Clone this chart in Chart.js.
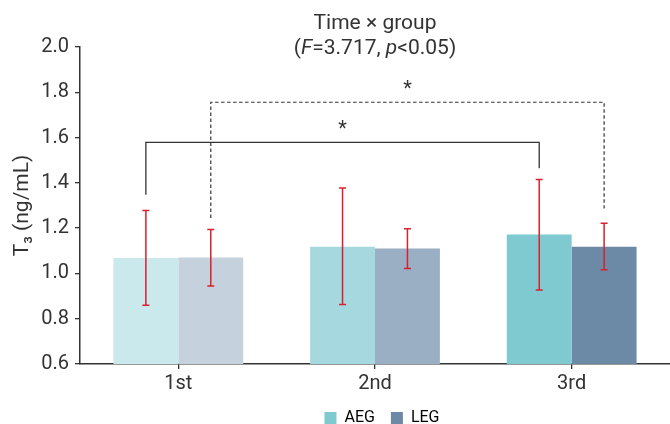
<!DOCTYPE html>
<html>
<head>
<meta charset="utf-8">
<script src="https://cdn.jsdelivr.net/npm/chart.js@4.4.1/dist/chart.umd.min.js"></script>
<style>
  html, body { margin: 0; padding: 0; background: #fff; }
  #wrap { width: 670px; height: 424px; }
</style>
</head>
<body>
<div id="wrap"><canvas id="chart" width="670" height="424"></canvas></div>
<script>
// values
const categories = ['1st', '2nd', '3rd'];
const groups = ['AEG', 'LEG'];
const aegMean = [1.068, 1.118, 1.172];
const legMean = [1.070, 1.110, 1.118];
const aegLow = [0.860, 0.863, 0.927];
const aegHigh = [1.278, 1.377, 1.415];
const legLow = [0.944, 1.022, 1.016];
const legHigh = [1.194, 1.197, 1.222];
const yTicks = [0.6, 0.8, 1.0, 1.2, 1.4, 1.6, 1.8, 2.0];

// brackets: dataset index, from category, to category, left foot, top, right foot
const solidBracket = [0, 0, 2, 1.347, 1.579, 1.464];
const dashedBracket = [1, 0, 2, 1.245, 1.756, 1.287];

const titleLine1 = 'Time × group';
const titleLine2 = [['(', false], ['F', true], ['=3.717, ', false], ['p', true], ['<0.05)', false]];

const aegColors = ['#c9e9ed', '#a5d9df', '#7fc9d1'];
const legColors = ['#c5d1dd', '#9aaec4', '#6c89a6'];
const textColor = '#333';
const FONT = 'Roboto';

const errorBars = {
  id: 'errorBars',
  afterDatasetsDraw(chart) {
    const { ctx } = chart;
    const y = chart.scales.y;
    const lows = [aegLow, legLow];
    const highs = [aegHigh, legHigh];
    ctx.save();
    ctx.strokeStyle = 'rgb(218, 32, 46)';
    ctx.lineWidth = 1.5;
    for (let d = 0; d < 2; d++) {
      chart.getDatasetMeta(d).data.forEach((bar, i) => {
        const x = bar.x;
        const top = y.getPixelForValue(highs[d][i]);
        const bot = y.getPixelForValue(lows[d][i]);
        ctx.beginPath();
        ctx.moveTo(x, top); ctx.lineTo(x, bot);
        ctx.moveTo(x - 3.5, top); ctx.lineTo(x + 3.5, top);
        ctx.moveTo(x - 3.5, bot); ctx.lineTo(x + 3.5, bot);
        ctx.stroke();
      });
    }
    ctx.restore();
  }
};

function drawBracket(chart, b, dashed) {
  const { ctx } = chart;
  const y = chart.scales.y;
  const meta = chart.getDatasetMeta(b[0]);
  const x1 = meta.data[b[1]].x;
  const x2 = meta.data[b[2]].x;
  const yTop = y.getPixelForValue(b[4]);
  ctx.save();
  ctx.strokeStyle = textColor;
  ctx.lineWidth = dashed ? 1.2 : 1.3;
  ctx.setLineDash(dashed ? [3.5, 2.5] : []);
  ctx.beginPath();
  ctx.moveTo(x1, y.getPixelForValue(b[3]));
  ctx.lineTo(x1, yTop);
  ctx.lineTo(x2, yTop);
  ctx.lineTo(x2, y.getPixelForValue(b[5]));
  ctx.stroke();
  ctx.setLineDash([]);
  ctx.fillStyle = textColor;
  ctx.font = `20px ${FONT}`;
  ctx.textAlign = 'center';
  ctx.textBaseline = 'alphabetic';
  ctx.fillText('*', (x1 + x2) / 2, yTop - 7);
  ctx.restore();
}

const annotations = {
  id: 'annotations',
  afterLayout(chart) {
    // legend sits a little right of centre in the reference
    chart.legend.left += 92;
  },
  afterDraw(chart) {
    const { ctx, chartArea } = chart;
    drawBracket(chart, solidBracket, false);
    drawBracket(chart, dashedBracket, true);

    const cx = (chartArea.left + chartArea.right) / 2;
    ctx.save();
    ctx.fillStyle = textColor;
    ctx.textBaseline = 'alphabetic';
    ctx.textAlign = 'center';
    ctx.font = `21px ${FONT}`;
    ctx.fillText(titleLine1, cx, 29);

    // second line mixes italic and upright parts
    ctx.textAlign = 'left';
    let total = 0;
    const widths = titleLine2.map(([t, it]) => {
      ctx.font = `${it ? 'italic ' : ''}21px ${FONT}`;
      const w = ctx.measureText(t).width;
      total += w;
      return w;
    });
    let x = cx - total / 2;
    titleLine2.forEach(([t, it], i) => {
      ctx.font = `${it ? 'italic ' : ''}21px ${FONT}`;
      ctx.fillText(t, x, 54);
      x += widths[i];
    });
    ctx.restore();
  }
};

new Chart(document.getElementById('chart'), {
  type: 'bar',
  data: {
    labels: categories,
    datasets: [
      { label: groups[0], data: aegMean, backgroundColor: aegColors, borderWidth: 0 },
      { label: groups[1], data: legMean, backgroundColor: legColors, borderWidth: 0 }
    ]
  },
  options: {
    responsive: false,
    animation: false,
    devicePixelRatio: 1,
    categoryPercentage: 0.66,
    barPercentage: 1.0,
    layout: { padding: { top: 47, right: -2, bottom: -12, left: 0 } },
    plugins: {
      title: { display: false },
      tooltip: { enabled: false },
      legend: {
        position: 'bottom',
        labels: {
          color: textColor,
          font: { family: FONT, size: 16 },
          boxWidth: 12,
          boxHeight: 12,
          padding: 16,
          generateLabels: () => [
            { text: groups[0], fillStyle: aegColors[2], strokeStyle: aegColors[2], lineWidth: 0, datasetIndex: 0 },
            { text: groups[1], fillStyle: legColors[2], strokeStyle: legColors[2], lineWidth: 0, datasetIndex: 1 }
          ]
        }
      }
    },
    scales: {
      x: {
        offset: true,
        grid: { offset: false, drawOnChartArea: false, tickLength: 5, color: textColor, lineWidth: 1.3 },
        border: { color: textColor, width: 1.5 },
        ticks: { color: textColor, font: { family: FONT, size: 20 }, padding: 3 },
        afterFit: (scale) => { scale.height = 30; }
      },
      y: {
        min: 0.6,
        max: 2.0,
        grid: { drawOnChartArea: false, tickLength: 5, color: textColor, lineWidth: 1.3 },
        border: { color: textColor, width: 1.5 },
        ticks: {
          color: textColor,
          font: { family: FONT, size: 20 },
          padding: 6,
          callback: (v) => Number(v).toFixed(1)
        },
        afterBuildTicks: (scale) => { scale.ticks = yTicks.map(v => ({ value: v })); },
        title: {
          display: true,
          text: 'T₃ (ng/mL)',
          color: textColor,
          font: { family: FONT, size: 21 },
          padding: { top: 10, bottom: 0 }
        },
        afterFit: (scale) => { scale.width = 80; }
      }
    }
  },
  plugins: [errorBars, annotations]
});
</script>
</body>
</html>
